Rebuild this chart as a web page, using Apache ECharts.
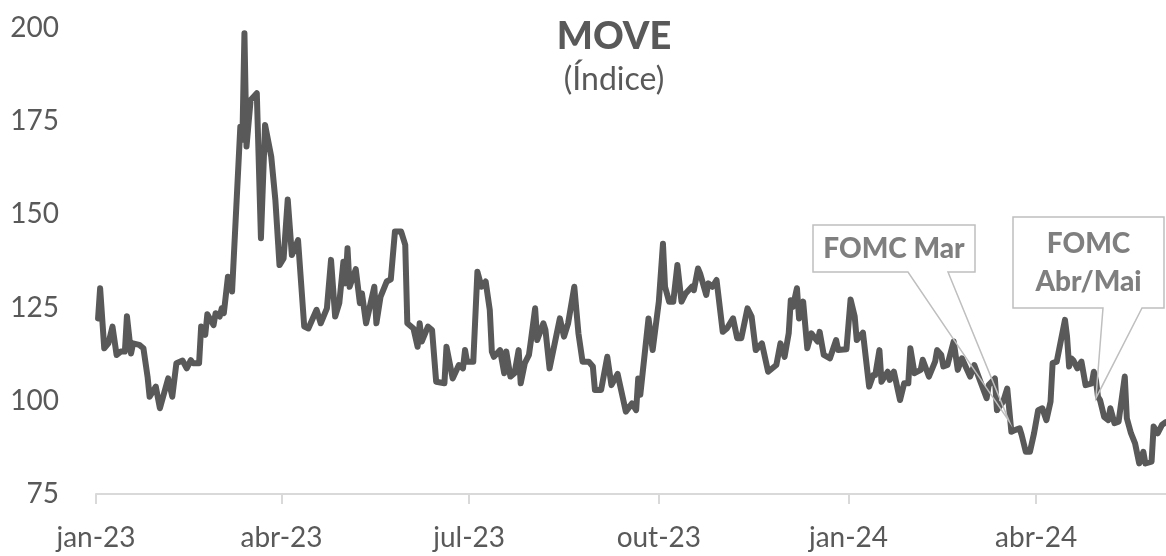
<!DOCTYPE html>
<html>
<head>
<meta charset="utf-8">
<script src="https://cdn.jsdelivr.net/npm/echarts@6/dist/echarts.min.js"></script>
<style>
  html, body { margin: 0; padding: 0; background: #fff; }
  #main { width: 1166px; height: 556px; }
</style>
</head>
<body>
<div id="main"></div>
<script>
// dados (índice MOVE)
var dates = [
  '2023-01-02','2023-01-03','2023-01-05','2023-01-07','2023-01-09','2023-01-11','2023-01-13','2023-01-15','2023-01-16','2023-01-18',
  '2023-01-19','2023-01-22','2023-01-24','2023-01-26','2023-01-27','2023-01-30','2023-02-01','2023-02-05','2023-02-07','2023-02-09',
  '2023-02-12','2023-02-14','2023-02-16','2023-02-17','2023-02-20','2023-02-21','2023-02-23','2023-02-24','2023-02-27','2023-02-28',
  '2023-03-02','2023-03-03','2023-03-04','2023-03-06','2023-03-07','2023-03-08','2023-03-12','2023-03-13','2023-03-14','2023-03-15',
  '2023-03-17','2023-03-20','2023-03-22','2023-03-24','2023-03-27','2023-03-29','2023-03-31','2023-04-02','2023-04-04','2023-04-06',
  '2023-04-09','2023-04-12','2023-04-14','2023-04-18','2023-04-20','2023-04-23','2023-04-25','2023-04-27','2023-04-29','2023-05-01',
  '2023-05-02','2023-05-03','2023-05-04','2023-05-07','2023-05-09','2023-05-10','2023-05-12','2023-05-16','2023-05-17','2023-05-19',
  '2023-05-22','2023-05-24','2023-05-26','2023-05-29','2023-05-31','2023-06-01','2023-06-04','2023-06-06','2023-06-07','2023-06-08',
  '2023-06-11','2023-06-13','2023-06-15','2023-06-19','2023-06-20','2023-06-23','2023-06-26','2023-06-28','2023-06-29','2023-06-30',
  '2023-07-03','2023-07-05','2023-07-07','2023-07-09','2023-07-11','2023-07-12','2023-07-13','2023-07-16','2023-07-18','2023-07-19',
  '2023-07-21','2023-07-23','2023-07-25','2023-07-26','2023-07-28','2023-07-30','2023-07-31','2023-08-02','2023-08-03','2023-08-06',
  '2023-08-07','2023-08-09','2023-08-14','2023-08-16','2023-08-18','2023-08-21','2023-08-23','2023-08-25','2023-08-28','2023-08-30',
  '2023-08-31','2023-09-03','2023-09-06','2023-09-08','2023-09-11','2023-09-12','2023-09-15','2023-09-18','2023-09-20','2023-09-21',
  '2023-09-22','2023-09-26','2023-09-28','2023-10-01','2023-10-03','2023-10-04','2023-10-06','2023-10-08','2023-10-10','2023-10-12',
  '2023-10-14','2023-10-17','2023-10-18','2023-10-20','2023-10-21','2023-10-24','2023-10-25','2023-10-27','2023-10-29','2023-11-01',
  '2023-11-03','2023-11-06','2023-11-08','2023-11-10','2023-11-13','2023-11-15','2023-11-17','2023-11-20','2023-11-23','2023-11-27',
  '2023-11-29','2023-12-01','2023-12-03','2023-12-04','2023-12-05','2023-12-07','2023-12-08','2023-12-10','2023-12-12','2023-12-14',
  '2023-12-17','2023-12-18','2023-12-20','2023-12-23','2023-12-26','2023-12-27','2023-12-31','2024-01-02','2024-01-04','2024-01-05',
  '2024-01-08','2024-01-11','2024-01-13','2024-01-14','2024-01-16','2024-01-17','2024-01-20','2024-01-21','2024-01-23','2024-01-26',
  '2024-01-28','2024-01-30','2024-01-31','2024-02-02','2024-02-05','2024-02-06','2024-02-09','2024-02-12','2024-02-13','2024-02-15',
  '2024-02-16','2024-02-18','2024-02-21','2024-02-23','2024-02-25','2024-02-29','2024-03-02','2024-03-05','2024-03-08','2024-03-09',
  '2024-03-12','2024-03-13','2024-03-16','2024-03-18','2024-03-20','2024-03-22','2024-03-24','2024-03-25','2024-03-27','2024-03-29',
  '2024-03-31','2024-04-02','2024-04-04','2024-04-06','2024-04-08','2024-04-09','2024-04-11','2024-04-15','2024-04-16','2024-04-17',
  '2024-04-18','2024-04-19','2024-04-21','2024-04-23','2024-04-25','2024-04-28','2024-04-29','2024-04-30','2024-05-01','2024-05-02',
  '2024-05-04','2024-05-06','2024-05-07','2024-05-09','2024-05-11','2024-05-14','2024-05-15','2024-05-17','2024-05-19','2024-05-21',
  '2024-05-23','2024-05-24','2024-05-27','2024-05-28','2024-05-30','2024-06-01','2024-06-03'
];
var moveValues = [
  122.1,130.2,114.1,115.4,119.9,112.3,113.2,113.2,122.7,112.7,
  115.4,115.0,114.1,106.5,101.1,103.8,98.0,106.0,101.1,110.1,
  110.8,108.7,110.9,110.1,110.1,119.9,117.7,123.2,120.3,123.5,
  122.6,124.8,123.5,133.3,132.9,129.3,173.5,170.0,198.6,168.2,
  180.7,182.5,143.6,174.0,165.5,153.9,136.4,138.2,154.0,139.1,
  143.1,119.9,119.4,124.4,120.8,124.8,137.8,122.6,126.2,137.3,
  131.5,140.9,130.6,135.3,126.2,128.8,120.8,130.6,120.8,127.9,
  132.0,132.6,145.4,145.4,141.8,120.8,119.4,114.5,120.8,115.9,
  119.9,119.0,105.1,104.7,114.5,106.0,109.6,108.7,113.6,110.5,
  110.5,134.6,130.6,132.0,124.4,113.2,111.8,113.6,107.4,113.2,
  106.5,107.4,113.6,104.7,110.1,112.3,116.3,124.8,116.3,120.8,
  119.0,108.7,122.1,117.2,120.8,130.6,118.1,110.5,110.5,109.2,
  102.9,102.9,111.8,104.2,107.2,104.7,97.1,99.3,97.5,106.0,
  101.6,122.1,113.6,126.6,142.1,130.6,126.6,126.6,136.4,126.6,
  128.8,130.6,129.7,135.5,134.2,128.4,131.5,130.6,132.4,118.5,
  119.4,122.1,116.8,116.8,124.8,122.6,113.6,115.4,107.8,109.6,
  115.4,111.8,118.1,127.0,125.2,130.2,122.1,126.6,114.1,118.1,
  115.9,118.5,112.3,111.4,116.3,113.6,113.8,127.2,122.6,116.3,
  118.3,103.8,106.9,106.9,113.6,105.1,107.8,105.6,107.8,100.2,
  104.7,104.7,114.1,107.4,108.3,111.0,106.5,110.5,113.6,112.3,
  109.2,109.6,115.9,108.3,111.4,106.5,109.6,105.1,100.7,104.2,
  106.0,97.5,99.8,103.3,91.7,92.2,92.6,90.8,86.3,86.3,
  91.3,97.5,98.0,94.8,99.8,110.1,110.5,121.7,117.2,109.2,
  111.4,110.9,108.7,110.5,104.2,104.7,107.8,105.6,101.1,100.2,
  95.7,94.8,98.0,94.0,94.4,106.5,95.3,91.3,88.6,83.2,
  86.3,83.2,83.7,93.1,91.3,93.5,94.3
];
var tickDates = ['2023-01-01', '2023-04-01', '2023-07-01', '2023-10-01', '2024-01-01', '2024-04-01'];
var tickLabels = ['jan-23', 'abr-23', 'jul-23', 'out-23', 'jan-24', 'abr-24'];
var callouts = [
  { text: 'FOMC Mar', date: '2024-03-19', value: 94.4 },
  { text: 'FOMC\nAbr/Mai', date: '2024-04-30', value: 100.7 }
];

// data -> número de dias desde 2023-01-01 (eixo numérico)
var DAY = 86400000;
var ORIGIN = Date.UTC(2023, 0, 1);
function dayNum(s) {
  var p = s.split('-');
  return Math.round((Date.UTC(+p[0], +p[1] - 1, +p[2]) - ORIGIN) / DAY);
}

var tickDays = tickDates.map(dayNum);
var seriesData = dates.map(function (d, i) { return [dayNum(d), moveValues[i]]; });

var myChart = echarts.init(document.getElementById('main'));
var font = 'Lato, "Open Sans", sans-serif';

// caixas dos callouts (posição fixa na figura)
var boxes = [
  { x1: 813, y1: 225, x2: 975, y2: 272, b1: 908, b2: 948 },
  { x1: 1013, y1: 217, x2: 1164, y2: 308, b1: 1103, b2: 1142 }
];

var titles = [
  {
    text: 'MOVE',
    subtext: '(Índice)',
    left: 609,
    top: 13,
    textAlign: 'center',
    itemGap: 8,
    textStyle: { fontFamily: font, fontSize: 38, fontWeight: 900, color: '#595959' },
    subtextStyle: { fontFamily: font, fontSize: 32, color: '#595959' }
  }
];
callouts.forEach(function (c, i) {
  var b = boxes[i];
  var nLines = c.text.split('\n').length;
  titles.push({
    text: c.text,
    left: (b.x1 + b.x2) / 2,
    top: (b.y1 + b.y2) / 2 - nLines * 19,
    textAlign: 'center',
    padding: 0,
    z: 12,
    textStyle: { fontFamily: font, fontSize: 28, fontWeight: 900, lineHeight: 38, color: '#7f7f7f' }
  });
});

var option = {
  animation: false,
  title: titles,
  grid: {
    left: 96,
    right: 0,
    top: 28,
    bottom: 62,
    containLabel: false,
    outerBoundsMode: 'none'
  },
  xAxis: {
    type: 'value',
    min: 0,
    max: dayNum(dates[dates.length - 1]),
    axisLine: { show: true, lineStyle: { color: '#d9d9d9', width: 2 } },
    axisTick: { show: true, length: 10, customValues: tickDays, lineStyle: { color: '#d9d9d9', width: 2 } },
    axisLabel: {
      customValues: tickDays,
      margin: 30,
      color: '#595959',
      fontFamily: font,
      fontSize: 28,
      formatter: function (v) {
        var i = tickDays.indexOf(v);
        return i >= 0 ? tickLabels[i] : '';
      }
    },
    splitLine: { show: false }
  },
  yAxis: {
    type: 'value',
    min: 75,
    max: 200,
    interval: 25,
    axisLine: { show: false },
    axisTick: { show: false },
    splitLine: { show: false },
    axisLabel: { margin: 37, color: '#595959', fontFamily: font, fontSize: 28 }
  },
  series: [
    {
      name: 'MOVE',
      type: 'line',
      data: seriesData,
      showSymbol: false,
      lineStyle: { color: '#595959', width: 6, join: 'round', cap: 'round' },
      z: 2
    }
  ]
};
myChart.setOption(option);

// contorno dos callouts com a ponta no ponto do gráfico
var graphics = [];
callouts.forEach(function (c, i) {
  var b = boxes[i];
  var tip = myChart.convertToPixel({ xAxisIndex: 0, yAxisIndex: 0 }, [dayNum(c.date), c.value]);
  graphics.push({
    type: 'polygon',
    z: 5,
    shape: {
      points: [[b.x1, b.y1], [b.x2, b.y1], [b.x2, b.y2], [b.b2, b.y2], tip, [b.b1, b.y2], [b.x1, b.y2]]
    },
    style: { fill: 'rgba(255,255,255,0)', stroke: '#bfbfbf', lineWidth: 1.5 }
  });
});
myChart.setOption({ graphic: graphics });
</script>
</body>
</html>
